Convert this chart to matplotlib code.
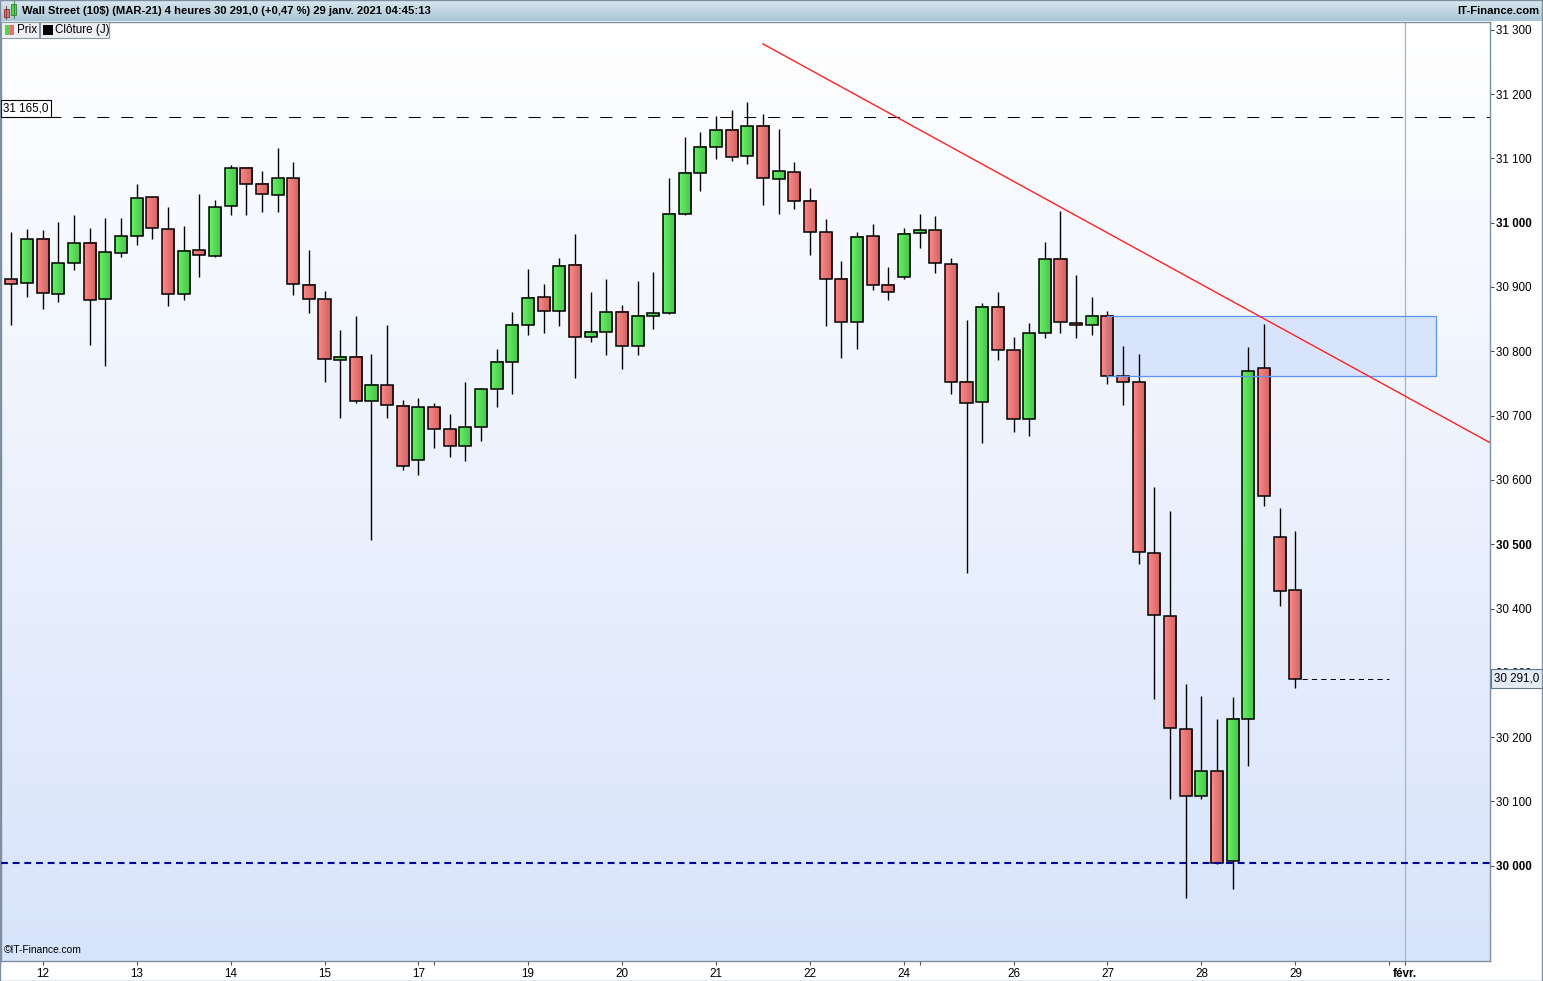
import numpy as np
import matplotlib
matplotlib.use('Agg')
import matplotlib.pyplot as plt
from matplotlib.patches import Rectangle
from matplotlib.colors import LinearSegmentedColormap
from matplotlib.transforms import blended_transform_factory

plt.rcParams['font.family'] = ['Liberation Sans', 'DejaVu Sans']

# 4h candles, Wall Street (MAR-21), 12 -> 29 janv. 2021
opens = [30912, 30906, 30974, 30889, 30937, 30968, 30881, 30953, 30979, 31040,
         30990, 30889, 30957, 30948, 31026, 31085, 31060, 31043, 31069, 30903,
         30881, 30786, 30791, 30722, 30747, 30715, 30631, 30713, 30679, 30653,
         30682, 30741, 30783, 30841, 30884, 30863, 30934, 30822, 30830, 30861,
         30808, 30855, 30859, 31013, 31077, 31118, 31144, 31104, 31150, 31068,
         31079, 31034, 30985, 30912, 30845, 30979, 30903, 30915, 30984, 30988,
         30935, 30752, 30721, 30869, 30802, 30695, 30828, 30943, 30844, 30841,
         30855, 30761, 30752, 30486, 30389, 30213, 30109, 30147, 30007, 30228,
         30774, 30511, 30429]
highs = [30985, 30990, 30989, 31001, 31012, 30992, 31008, 31008, 31060, 31041,
         31024, 30995, 31045, 31036, 31090, 31085, 31081, 31116, 31095, 30957,
         30894, 30833, 30855, 30796, 30841, 30725, 30727, 30719, 30703, 30752,
         30743, 30803, 30861, 30928, 30905, 30945, 30983, 30892, 30912, 30872,
         30909, 30923, 31069, 31133, 31141, 31166, 31175, 31188, 31169, 31146,
         31094, 31054, 31006, 30941, 30985, 30998, 30931, 30992, 31013, 31010,
         30945, 30849, 30875, 30892, 30822, 30844, 30970, 31018, 30919, 30885,
         30862, 30808, 30796, 30589, 30551, 30283, 30264, 30228, 30263, 30806,
         30842, 30557, 30520]
lows = [30841, 30885, 30865, 30876, 30927, 30810, 30777, 30946, 30965, 30975,
        30870, 30880, 30916, 30946, 31012, 31012, 31016, 31016, 30887, 30859,
        30753, 30696, 30720, 30507, 30696, 30615, 30607, 30649, 30635, 30629,
        30660, 30714, 30733, 30825, 30828, 30839, 30758, 30815, 30794, 30772,
        30794, 30835, 30858, 31012, 31050, 31099, 31096, 31091, 31028, 31014,
        31021, 30949, 30840, 30790, 30803, 30896, 30879, 30913, 30961, 30921,
        30733, 30456, 30657, 30787, 30674, 30668, 30821, 30828, 30821, 30825,
        30749, 30716, 30470, 30259, 30104, 29950, 30104, 30003, 29964, 30155,
        30560, 30404, 30277]
closes = [30905, 30974, 30890, 30937, 30968, 30879, 30954, 30979, 31038, 30992,
          30889, 30956, 30950, 31024, 31085, 31060, 31044, 31069, 30905, 30881,
          30788, 30791, 30722, 30747, 30716, 30621, 30713, 30679, 30653, 30682,
          30741, 30783, 30841, 30883, 30863, 30933, 30822, 30830, 30861, 30808,
          30855, 30859, 31013, 31077, 31118, 31144, 31102, 31150, 31069, 31080,
          31034, 30985, 30912, 30845, 30978, 30903, 30892, 30982, 30988, 30937,
          30752, 30719, 30869, 30802, 30695, 30828, 30943, 30845, 30841, 30855,
          30761, 30752, 30488, 30390, 30215, 30109, 30147, 30005, 30228, 30769,
          30575, 30428, 30291]

day_ticks = [2, 8, 14, 20, 26, 33, 39, 45, 51, 57, 64, 70, 76, 82, 89]
day_labels = ['12', '13', '14', '15', '17', '19', '20', '21', '22', '24',
              '26', '27', '28', '29', 'févr.']
week_ticks = [27, 58, 88]
price_ticks = list(range(30000, 31301, 100))
bold_prices = [31000, 30500, 30000]

resistance = 31165
support = 30005
last_close = 30291
trend_x = [48, 94.5]
trend_y = [31278, 30657]
zone_x = [70, 91]
zone_y = [30761, 30855]

FS = 8.4
W, H = 1543, 981
fig = plt.figure(figsize=(W / 100, H / 100), dpi=100)
fig.patch.set_facecolor('white')


def fx(px):
    return px / W


def fy(py):
    return 1 - py / H


ax = fig.add_axes([fx(1), fy(961), fx(1490) - fx(1), fy(22) - fy(961)])
xmin, xmax = -0.66, 94.43
ymin, ymax = 29852, 31312

# background gradient
bg = LinearSegmentedColormap.from_list('bg', ['#d8e4fb', '#ffffff'])
ax.imshow(np.linspace(0, 1, 256).reshape(-1, 1)[::-1], cmap=bg, aspect='auto',
          extent=(xmin, xmax, ymin, ymax), zorder=0, interpolation='bilinear')

# zone
ax.add_patch(Rectangle((zone_x[0], zone_y[0]), zone_x[1] - zone_x[0], zone_y[1] - zone_y[0],
                       facecolor='#d3e1fc', alpha=0.85, edgecolor='none', zorder=1))
ax.add_patch(Rectangle((zone_x[0], zone_y[0]), zone_x[1] - zone_x[0], zone_y[1] - zone_y[0],
                       facecolor='none', edgecolor='#5b95f5', lw=0.9, zorder=3.5))

ax.axvline(89, color='#a7b3c7', lw=0.9, zorder=1)
ax.axhline(resistance, color='black', lw=0.75, dashes=(11.5, 11.5), zorder=2)
ax.axhline(support, color='#00009a', lw=1.5, dashes=(3.3, 2.3), zorder=4)

# candles
green_cm = LinearSegmentedColormap.from_list('g', ['#6ded6d', '#3fc63f'])
red_cm = LinearSegmentedColormap.from_list('r', ['#f68c8c', '#d65d5d'])
grad = np.linspace(0, 1, 32).reshape(1, -1)
w = 0.77
for i in range(len(opens)):
    o, h, l, c = opens[i], highs[i], lows[i], closes[i]
    ax.plot([i, i], [l, h], color='black', lw=1.0, zorder=2.5, solid_capstyle='butt')
    lo, hi = min(o, c), max(o, c)
    cm = green_cm if c >= o else red_cm
    ax.imshow(grad, cmap=cm, aspect='auto', extent=(i - w / 2, i + w / 2, lo, hi),
              interpolation='bilinear', zorder=3)
    ax.add_patch(Rectangle((i - w / 2, lo), w, hi - lo, facecolor='none',
                           edgecolor='black', lw=1.1, zorder=3.1))

ax.plot(trend_x, trend_y, color='#ff2020', lw=1.0, zorder=4)
ax.plot([82.45, 88], [last_close, last_close], color='black', lw=0.75,
        dashes=(5, 4), zorder=4)

ax.set_xlim(xmin, xmax)
ax.set_ylim(ymin, ymax)

# axes styling
for s in ax.spines.values():
    s.set_color('#7d8fa0')
    s.set_linewidth(1.0)
ax.yaxis.tick_right()
ax.set_yticks(price_ticks)
ax.set_yticklabels([f'{p:,}'.replace(',', ' ') for p in price_ticks])
for lab, p in zip(ax.get_yticklabels(), price_ticks):
    if p in bold_prices:
        lab.set_fontweight('bold')
ax.tick_params(axis='y', direction='out', length=3, width=0.8, color='#505050',
               pad=1.5, labelsize=FS)
ax.set_xticks(day_ticks)
ax.set_xticklabels(day_labels)
ax.get_xticklabels()[-1].set_fontweight('bold')
ax.set_xticks(week_ticks, minor=True)
ax.tick_params(axis='x', which='both', direction='out', length=3, width=0.8,
               color='#505050', pad=2, labelsize=FS)

# price labels
tr = blended_transform_factory(ax.transAxes, ax.transData)
ax.text(0.0015, resistance + 3, '31 165,0', transform=tr, ha='left', va='bottom',
        fontsize=FS, zorder=6,
        bbox=dict(boxstyle='square,pad=0.2', fc='white', ec='black', lw=0.8))
ax.text(1.003, last_close, '30 291,0', transform=tr, ha='left', va='center',
        fontsize=FS, zorder=6, clip_on=False,
        bbox=dict(boxstyle='square,pad=0.3', fc='#e4ecf4', ec='#60778a', lw=0.8))
ax.text(0.002, 0.006, '©IT-Finance.com', transform=ax.transAxes, ha='left',
        va='bottom', fontsize=7.4, zorder=6)

# header bar
hax = fig.add_axes([0, fy(21), 1, 21 / H])
hdr = LinearSegmentedColormap.from_list('hdr', ['#a9c5d6', '#dbe8f0'])
hax.imshow(np.linspace(0, 1, 64).reshape(-1, 1)[::-1], cmap=hdr, aspect='auto',
           extent=(0, 1, 0, 1), interpolation='bilinear')
hax.set_xlim(0, 1)
hax.set_ylim(0, 1)
hax.axis('off')
hax.text(fx(22), 0.5, 'Wall Street (10$) (MAR-21) 4 heures 30 291,0 (+0,47 %) 29 janv. 2021 04:45:13',
         ha='left', va='center', fontsize=8.1, fontweight='bold')
hax.text(fx(1539), 0.5, 'IT-Finance.com', ha='right', va='center', fontsize=8.1,
         fontweight='bold')
# small candle icon
hax.add_patch(Rectangle((fx(4), 0.2), fx(5), 0.35, fc='#e86f6f', ec='#803030', lw=0.6))
hax.add_patch(Rectangle((fx(11), 0.3), fx(5), 0.5, fc='#52d652', ec='#2f7f2f', lw=0.6))
hax.plot([fx(6.5), fx(6.5)], [0.1, 0.7], color='#803030', lw=0.6)
hax.plot([fx(13.5), fx(13.5)], [0.15, 0.95], color='#2f7f2f', lw=0.6)

# legend buttons
fig.add_artist(Rectangle((fx(1), fy(38)), fx(38), 16 / H, transform=fig.transFigure,
                         fc='#eef0f3', ec='#8d9aa6', lw=0.8, zorder=10))
fig.add_artist(Rectangle((fx(40), fy(38)), fx(69), 16 / H, transform=fig.transFigure,
                         fc='#eef0f3', ec='#8d9aa6', lw=0.8, zorder=10))
fig.add_artist(Rectangle((fx(5), fy(35)), fx(4.5), 10 / H, transform=fig.transFigure,
                         fc='#52d652', ec='none', zorder=11))
fig.add_artist(Rectangle((fx(9.5), fy(35)), fx(4.5), 10 / H, transform=fig.transFigure,
                         fc='#e86f6f', ec='none', zorder=11))
fig.add_artist(Rectangle((fx(43), fy(35)), fx(10), 10 / H, transform=fig.transFigure,
                         fc='black', ec='none', zorder=11))
fig.text(fx(17), fy(30), 'Prix', ha='left', va='center', fontsize=FS, zorder=12)
fig.text(fx(55), fy(30), 'Clôture (J)', ha='left', va='center', fontsize=FS, zorder=12)

# outer frame
fig.add_artist(Rectangle((0.0003, 0.0005), 0.9992, 0.999, transform=fig.transFigure,
                         fc='none', ec='#7d8fa0', lw=1.0, zorder=20))

fig.savefig('out.png', dpi=100)
